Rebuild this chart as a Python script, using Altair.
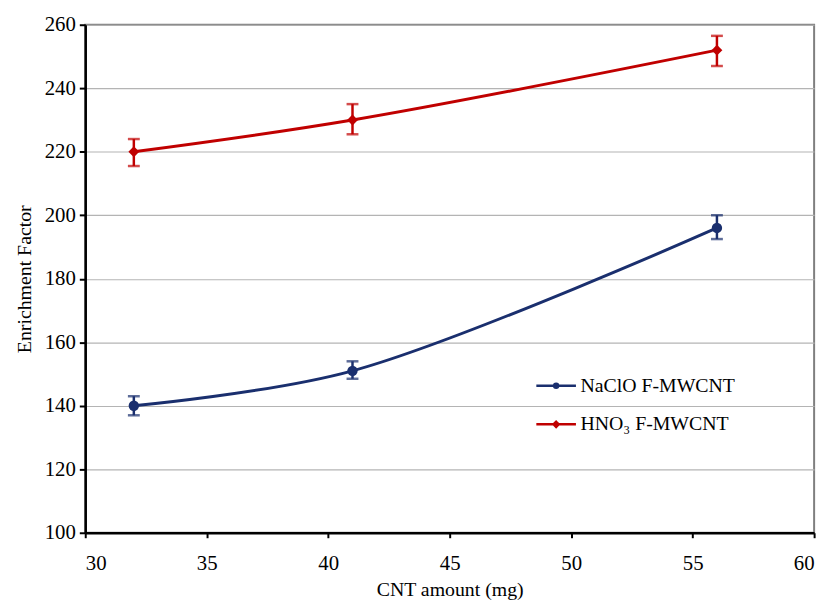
import altair as alt
import pandas as pd

cnt_amount = [32, 41, 56]
naclo_ef = [140, 151, 196]
naclo_lo = [137, 148.5, 192.5]
naclo_hi = [143, 154, 200]
hno3_ef = [220, 230, 252]
hno3_lo = [215.5, 225.5, 247]
hno3_hi = [224, 235, 256.5]
series_names = ["NaClO F-MWCNT", "HNO\u2083 F-MWCNT"]
series_colors = ["#1a2f6e", "#c00000"]

rows = []
for i, x in enumerate(cnt_amount):
    rows.append({"x": x, "y": naclo_ef[i], "lo": naclo_lo[i], "hi": naclo_hi[i], "series": series_names[0]})
for i, x in enumerate(cnt_amount):
    rows.append({"x": x, "y": hno3_ef[i], "lo": hno3_lo[i], "hi": hno3_hi[i], "series": series_names[1]})
df = pd.DataFrame(rows)

FONT = "Liberation Serif"
xscale = alt.Scale(domain=[30, 60], nice=False, zero=False)
yscale = alt.Scale(domain=[100, 260], nice=False, zero=False)
cscale = alt.Scale(domain=series_names, range=series_colors)

xenc = alt.X("x:Q", scale=xscale, title="CNT amount (mg)",
             axis=alt.Axis(values=[30, 35, 40, 45, 50, 55, 60], grid=False,
                           domainColor="black", domainWidth=2.5, tickColor="black",
                           tickWidth=2, tickSize=5, labelPadding=15, titlePadding=6))
yenc = alt.Y("y:Q", scale=yscale, title="Enrichment Factor",
             axis=alt.Axis(values=list(range(100, 261, 20)), grid=True, gridColor="#b4b4b4",
                           gridWidth=1.2, domainColor="black", domainWidth=2.5, tickColor="black",
                           tickWidth=2, tickSize=6, labelPadding=4, titlePadding=10))

base = alt.Chart(df)
nocolor = alt.Color("series:N", scale=cscale, legend=None)

lines = base.mark_line(interpolate="catmull-rom", strokeWidth=3).encode(
    x=xenc, y=yenc, color=nocolor, detail="series:N",
)

errs = base.mark_errorbar(ticks=alt.TickConfig(size=12, thickness=2.5), thickness=2.5).encode(
    x=alt.X("x:Q", scale=xscale),
    y=alt.Y("lo:Q", scale=yscale, title="Enrichment Factor"),
    y2="hi:Q",
    color=nocolor,
)

pts_naclo = base.mark_point(filled=True, opacity=1, size=110, shape="circle").encode(
    x=alt.X("x:Q", scale=xscale), y=alt.Y("y:Q", scale=yscale), color=nocolor,
).transform_filter(alt.datum.series == series_names[0])

pts_hno3 = base.mark_point(filled=True, opacity=1, size=120, shape="diamond").encode(
    x=alt.X("x:Q", scale=xscale), y=alt.Y("y:Q", scale=yscale), color=nocolor,
).transform_filter(alt.datum.series == series_names[1])

leg = alt.Legend(title=None, orient="none", legendX=454, legendY=343,
                 labelFont=FONT, labelFontSize=20, labelColor="black", rowPadding=7,
                 symbolSize=1600, symbolStrokeWidth=2.5, labelOffset=3, labelLimit=300)

legend_layer = base.mark_point(filled=False, strokeWidth=2.5, opacity=1).encode(
    x=alt.X("x:Q", scale=xscale),
    y=alt.Y("y:Q", scale=yscale),
    stroke=alt.Stroke("series:N", scale=alt.Scale(domain=series_names, range=series_colors), legend=leg),
    shape=alt.Shape("series:N", legend=leg, scale=alt.Scale(
        domain=series_names,
        range=["M-1,0H1M-0.1,0A0.1,0.1 0 1,0 0.1,0A0.1,0.1 0 1,0 -0.1,0Z",
               "M-1,0H1M0,-0.13L0.13,0L0,0.13L-0.13,0Z"])),
).transform_filter("false")

chart = alt.layer(lines, errs, pts_naclo, pts_hno3, legend_layer).resolve_scale(
    stroke="independent", shape="independent"
).properties(
    width=736, height=513,
    autosize=alt.AutoSizeParams(type="none"),
    padding={"left": 78, "top": 14, "right": 12, "bottom": 66},
).configure_view(stroke="#7f7f7f", strokeWidth=2).configure_axis(
    labelFont=FONT, titleFont=FONT, labelFontSize=21, titleFontSize=20,
    labelColor="black", titleColor="black", titleFontWeight="normal",
)

chart.save("out.html", embed_options={"renderer": "svg", "actions": False})
